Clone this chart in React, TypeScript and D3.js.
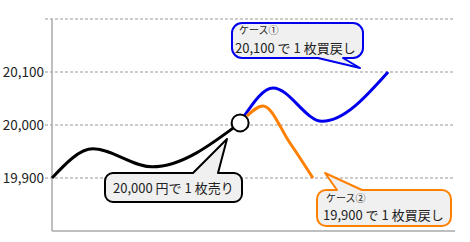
import React from "react";
import * as d3 from "d3";

const yTicks = [19800, 19900, 20000, 20100, 20200];
const yLabels = ["", "19,900", "20,000", "20,100", ""];

const baseX = [0, 10.2, 24.9, 46.8];
const baseY = [19900, 19955, 19921, 20004];
const case1X = [47.8, 55, 67.2, 83.6];
const case1Y = [20017, 20070, 20007, 20100];
const case2X = [48.5, 52.5, 59.2, 64.9];
const case2Y = [20017, 20036, 19966, 19900];
const entryPoint = { x: 46.8, y: 20004 };

const FONT = "'Noto Sans CJK JP', 'Noto Sans', sans-serif";

function calloutPath(
  x: number, y: number, w: number, h: number, r: number,
  side: "top" | "bottom", b1: number, b2: number, tx: number, ty: number
) {
  const p = d3.path();
  p.moveTo(x + r, y);
  if (side === "top") {
    p.lineTo(b1, y);
    p.lineTo(tx, ty);
    p.lineTo(b2, y);
  }
  p.lineTo(x + w - r, y);
  p.arcTo(x + w, y, x + w, y + r, r);
  p.lineTo(x + w, y + h - r);
  p.arcTo(x + w, y + h, x + w - r, y + h, r);
  if (side === "bottom") {
    p.lineTo(b2, y + h);
    p.lineTo(tx, ty);
    p.lineTo(b1, y + h);
  }
  p.lineTo(x + r, y + h);
  p.arcTo(x, y + h, x, y + h - r, r);
  p.lineTo(x, y + r);
  p.arcTo(x, y, x + r, y, r);
  p.closePath();
  return p.toString();
}

export default function App() {
  const W = 470, H = 242;
  const x = d3.scaleLinear().domain([0, 100]).range([52, 454]);
  const y = d3.scaleLinear().domain([19800, 20200]).range([231, 19]);
  const line = (xs: number[], ys: number[]) =>
    d3.line<number>().x((_, i) => x(xs[i])).y((_, i) => y(ys[i])).curve(d3.curveMonotoneX)(xs) || "";

  return (
    <svg width={W} height={H} style={{ position: "absolute", left: 0, top: 0 }} fontFamily={FONT}>
      {yTicks.map((t, i) =>
        i === 0 ? null : (
          <line key={t} x1={45} x2={455} y1={y(t)} y2={y(t)} stroke="#999" strokeWidth={1} strokeDasharray="3,2" />
        )
      )}
      <line x1={52} x2={52} y1={y(20200)} y2={y(19800)} stroke="#aaa" strokeWidth={1.5} />
      <line x1={52} x2={455} y1={y(19800)} y2={y(19800)} stroke="#aaa" strokeWidth={1.5} />
      {yTicks.map((t, i) => (
        <text key={"l" + t} x={44} y={y(t) + 5} textAnchor="end" fontSize={13.5} fill="#222">{yLabels[i]}</text>
      ))}
      <path d={line(baseX, baseY)} fill="none" stroke="#000" strokeWidth={3} />
      <path d={line(case1X, case1Y)} fill="none" stroke="#0000ee" strokeWidth={3} />
      <path d={line(case2X, case2Y)} fill="none" stroke="#ff8000" strokeWidth={3} />
      <circle cx={x(entryPoint.x)} cy={y(entryPoint.y)} r={8.5} fill="#fff" stroke="#000" strokeWidth={2} />

      <path d={calloutPath(105, 173, 137, 29, 8, "top", 193, 218, 227, 139)} fill="#f0f0f0" stroke="#000" strokeWidth={2} strokeLinejoin="round" />
      <text x={113} y={193} fontSize={13} fill="#222">20,000 円で 1 枚売り</text>

      <path d={calloutPath(232, 23, 131, 35, 10, "bottom", 318, 343, 360, 68)} fill="#f0f0f0" stroke="#0000ee" strokeWidth={2} strokeLinejoin="round" />
      <text x={239} y={34} fontSize={10} fill="#222">ケース①</text>
      <text x={235} y={52.5} fontSize={13} fill="#222">20,100 で 1 枚買戻し</text>

      <path d={calloutPath(317, 190, 134, 36, 9, "top", 337, 362, 325, 173)} fill="#f0f0f0" stroke="#ff8000" strokeWidth={2} strokeLinejoin="round" />
      <text x={326} y={201.5} fontSize={10} fill="#222">ケース②</text>
      <text x={323} y={220} fontSize={13} fill="#222">19,900 で 1 枚買戻し</text>
    </svg>
  );
}
